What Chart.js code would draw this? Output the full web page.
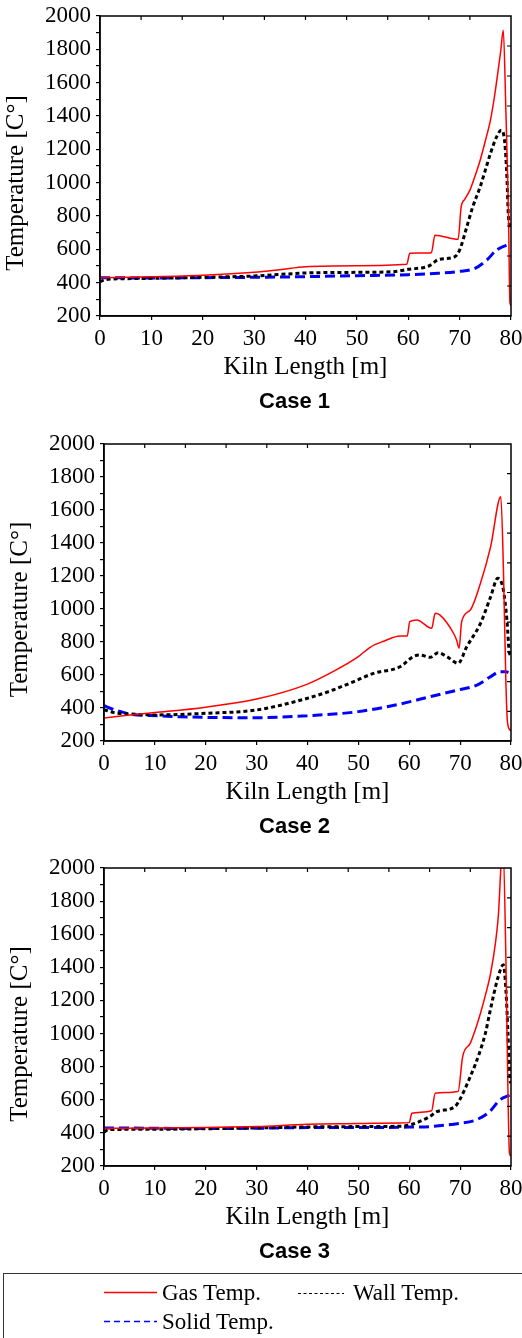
<!DOCTYPE html>
<html>
<head>
<meta charset="utf-8">
<script src="https://cdn.jsdelivr.net/npm/chart.js@4.4.1/dist/chart.umd.min.js"></script>
<style>
  body { margin: 0; background: #fff; width: 522px; height: 1338px; overflow: hidden; position: relative; }
  .box { position: absolute; left: 0; width: 522px; height: 425px; }
  #legendBox { position: absolute; left: 3px; top: 1273px; width: 560px; height: 100px; border: 1px solid #333; box-sizing: border-box; }
  .lg { position: absolute; font: 23px "Liberation Serif", "Times New Roman", serif; line-height: 23px; color: #000; white-space: nowrap; }
</style>
</head>
<body>
<div class="box" style="top:0px"><canvas id="c1"></canvas></div>
<div class="box" style="top:425px"><canvas id="c2"></canvas></div>
<div class="box" style="top:850px"><canvas id="c3"></canvas></div>

<div id="legendBox"></div>
<svg width="522" height="1338" style="position:absolute;left:0;top:0;pointer-events:none">
  <line x1="104" y1="1292.5" x2="157" y2="1292.5" stroke="#ff0000" stroke-width="1.4"/>
  <line x1="298" y1="1293.5" x2="344" y2="1293.5" stroke="#000" stroke-width="1.2" stroke-dasharray="3,2.5"/>
  <line x1="104" y1="1321.5" x2="157" y2="1321.5" stroke="#0000ff" stroke-width="1.5" stroke-dasharray="6,4"/>
</svg>
<span class="lg" style="left:162px;top:1281px">Gas Temp.</span>
<span class="lg" style="left:353px;top:1281px">Wall Temp.</span>
<span class="lg" style="left:162px;top:1310px">Solid Temp.</span>

<script>
// Case 1
const case1GasX   = [0, 10, 20, 30, 35, 40, 50, 59.7, 60.3, 64.5, 65.2, 69.7, 70.3, 71, 72, 73, 74, 75, 76, 76.8, 77.5, 78, 78.5, 79, 79.5, 79.8, 80];
const case1GasY   = [430, 435, 444, 462, 478, 496, 502, 510, 576, 580, 685, 660, 855, 900, 955, 1040, 1135, 1250, 1375, 1520, 1675, 1790, 1915, 1435, 835, 278, 262];
const case1WallX  = [0, 1, 5, 10, 20, 30, 40, 50, 57, 60, 64, 66, 69, 70, 71.4, 72.5, 74, 75, 76, 77.2, 78.1, 78.8, 79.2, 79.5, 80];
const case1WallY  = [405, 418, 424, 426, 432, 440, 458, 462, 466, 480, 500, 540, 555, 596, 735, 850, 975, 1075, 1175, 1275, 1315, 1237, 1035, 795, 720];
const case1SolidX = [0, 10, 20, 30, 40, 50, 60, 65, 70, 73, 75.3, 77.2, 80];
const case1SolidY = [430, 428, 430, 432, 436, 442, 448, 455, 468, 486, 536, 596, 635];

// Case 2
const case2GasX   = [0, 5, 10, 20, 30, 40, 45, 50, 52.3, 55, 58.2, 59.6, 60.1, 61.5, 64.4, 65.1, 66, 68.7, 69.3, 69.8, 70.3, 72, 74, 76, 78, 78.5, 79, 79.3, 79.8, 80];
const case2GasY   = [340, 357, 372, 405, 454, 545, 620, 711, 768, 805, 836, 836, 923, 933, 883, 974, 964, 853, 812, 762, 923, 994, 1156, 1378, 1681, 1256, 550, 317, 267, 262];
const case2WallX  = [0, 2, 5, 10, 20, 30, 40, 45, 49, 53, 58.2, 60.8, 62.1, 64.1, 65.7, 67.4, 69.6, 71.3, 74, 76, 77.4, 78.5, 79.2, 79.7, 80];
const case2WallY  = [390, 372, 364, 358, 368, 388, 459, 509, 559, 610, 650, 711, 721, 707, 735, 711, 671, 771, 913, 1074, 1186, 1115, 933, 731, 720];
const case2SolidX = [0, 2, 5, 11, 15, 20, 30, 40, 50, 58.2, 64, 69.6, 73.3, 76, 77.8, 79, 79.5];
const case2SolidY = [414, 390, 364, 352, 347, 343, 341, 353, 378, 424, 468, 509, 539, 590, 620, 620, 615];

// Case 3
const case3GasX   = [0, 10, 20, 30, 40, 50, 58, 60, 60.5, 64.4, 65.1, 69.6, 70.5, 72, 73, 74, 75, 76, 77, 77.5, 78.4, 79, 79.3, 79.7, 80];
const case3GasY   = [428, 430, 433, 438, 452, 456, 460, 462, 519, 534, 640, 650, 861, 942, 1025, 1123, 1235, 1365, 1560, 1707, 2150, 1446, 841, 277, 262];
const case3WallX  = [0, 1, 10, 20, 30, 40, 50, 58, 60.1, 64, 65.4, 69, 69.9, 72, 73, 74, 75, 75.8, 77.5, 78.5, 79, 79.4, 79.8, 80];
const case3WallY  = [405, 420, 422, 425, 430, 436, 438, 440, 448, 498, 528, 559, 599, 740, 815, 901, 1005, 1123, 1345, 1415, 1264, 1002, 720, 700];
const case3SolidX = [0, 10, 20, 30, 40, 50, 60, 64, 69.9, 73.1, 75.8, 77.8, 79.8, 80];
const case3SolidY = [430, 428, 426, 428, 432, 432, 435, 438, 458, 478, 528, 599, 629, 632];

// axes
const xMin = 0, xMax = 80, xStep = 10;
const yMin = 200, yMax = 2000, yStep = 100;

const serif = '"Liberation Serif", "Times New Roman", serif';

function pts(xs, ys) {
  return xs.map((x, i) => ({ x: x, y: ys[i] }));
}

// frame, inward mirror ticks on top/right, rotated y title, case caption
const framePlugin = {
  id: 'frame',
  afterDraw(chart, args, opts) {
    const { ctx, chartArea: a, scales } = chart;
    ctx.save();
    ctx.strokeStyle = '#000';
    ctx.lineWidth = 1.5;
    ctx.strokeRect(a.left, a.top, a.right - a.left, a.bottom - a.top);
    ctx.lineWidth = 1.2;
    ctx.beginPath();
    for (let i = 1; i < 10; i++) {
      const px = scales.x.getPixelForValue(xMin + (xMax - xMin) * i / 10);
      ctx.moveTo(px, a.top);
      ctx.lineTo(px, a.top + 4);
      const py = scales.y.getPixelForValue(yMin + (yMax - yMin) * i / 10);
      ctx.moveTo(a.right, py);
      ctx.lineTo(a.right - 4, py);
    }
    ctx.stroke();
    ctx.fillStyle = '#000';
    ctx.textAlign = 'center';
    ctx.textBaseline = 'middle';
    // caption under the x title
    ctx.font = 'bold 22px "Liberation Sans", Arial, sans-serif';
    ctx.fillText(opts.caption, 294.5, 402);
    // y axis title
    ctx.font = '25px ' + serif;
    ctx.translate(opts.titleX, (a.top + a.bottom) / 2 + 17);
    ctx.rotate(-Math.PI / 2);
    ctx.fillText('Temperature [C\u00b0]', 0, 0);
    ctx.restore();
  }
};

function makeChart(id, label, gx, gy, wx, wy, sx, sy, areaLeft, topPad) {
  return new Chart(document.getElementById(id), {
    type: 'line',
    data: {
      datasets: [
        { label: 'Gas Temp.', data: pts(gx, gy), borderColor: '#ff0000', borderWidth: 1.5 },
        { label: 'Wall Temp.', data: pts(wx, wy), borderColor: '#000000', borderWidth: 3, borderDash: [4, 3] },
        { label: 'Solid Temp.', data: pts(sx, sy), borderColor: '#0000ff', borderWidth: 3, borderDash: [10, 5] }
      ]
    },
    options: {
      responsive: true,
      maintainAspectRatio: false,
      animation: false,
      elements: { point: { radius: 0 }, line: { cubicInterpolationMode: 'monotone', fill: false } },
      layout: { padding: { left: 0, right: 11, top: topPad, bottom: 43 } },
      scales: {
        x: {
          type: 'linear', min: xMin, max: xMax,
          ticks: { stepSize: xStep, autoSkip: false, maxRotation: 0, padding: 5, color: '#000', font: { family: serif, size: 23 } },
          grid: { drawOnChartArea: false, drawTicks: true, tickLength: 4, color: '#000', lineWidth: 1.2 },
          border: { color: '#000', width: 1.5 },
          title: { display: true, text: 'Kiln Length [m]', color: '#000', font: { family: serif, size: 25 }, padding: 0 },
          afterFit(s) { s.height = 66; s.paddingLeft = 0; s.paddingRight = 0; }
        },
        y: {
          min: yMin, max: yMax,
          ticks: { stepSize: yStep, autoSkip: false, padding: 5, color: '#000', font: { family: serif, size: 23 },
                   callback: v => (v % 200 === 0 ? v : '') },
          grid: { drawOnChartArea: false, drawTicks: true, tickLength: 4, color: '#000', lineWidth: 1.2 },
          border: { color: '#000', width: 1.5 },
          afterFit(s) { s.width = areaLeft; s.paddingTop = 0; s.paddingBottom = 0; }
        }
      },
      plugins: {
        legend: { display: false },
        tooltip: { enabled: false },
        title: { display: false },
        frame: { titleX: areaLeft - 83.5, caption: label }
      }
    },
    plugins: [framePlugin]
  });
}

makeChart('c1', 'Case 1', case1GasX, case1GasY, case1WallX, case1WallY, case1SolidX, case1SolidY, 100, 16);
makeChart('c2', 'Case 2', case2GasX, case2GasY, case2WallX, case2WallY, case2SolidX, case2SolidY, 104, 19);
makeChart('c3', 'Case 3', case3GasX, case3GasY, case3WallX, case3WallY, case3SolidX, case3SolidY, 104, 18);
</script>
</body>
</html>
